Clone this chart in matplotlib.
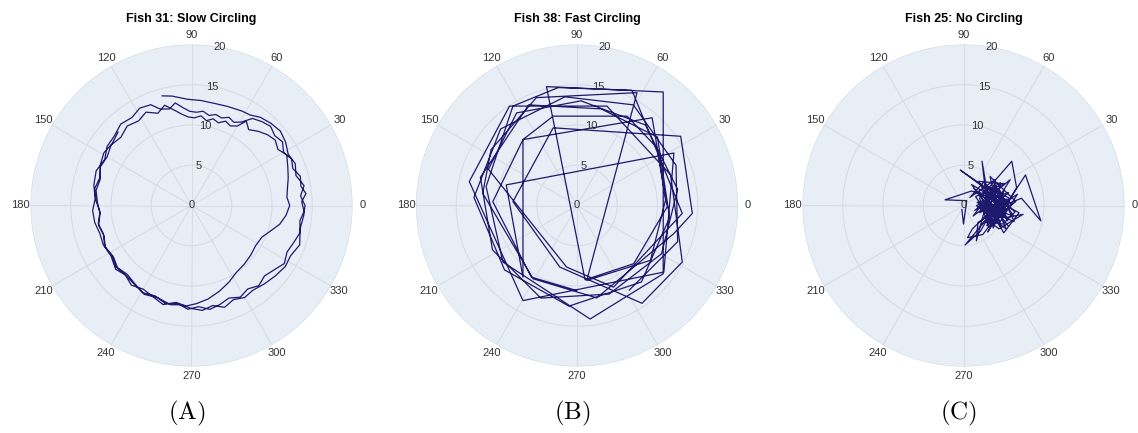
import numpy as np
import matplotlib.pyplot as plt

plt.rcParams['font.family'] = ['Liberation Sans', 'DejaVu Sans']
plt.rcParams['mathtext.fontset'] = 'cm'

# Fish 31: slow circling, three laps (angle in degrees, distance from centre)
theta_31 = [
    105, 100, 92, 85, 78, 70, 62, 57, 52, 46, 40, 34, 28, 22, 16, 10, 5, 0, -5, -12,
    -20, -27, -33, -40, -47, -54, -60, -66, -72, -78, -84, -90, -96, -102, -110, -118,
    -126, -133, -140, -148, -156, -163, -170, -177, 176, 168, 160, 152, 145, 138, 131,
    124, 118, 112,
    108, 103, 99, 95, 91, 87, 83, 79, 75, 71, 67, 63, 59, 55, 50, 45, 40, 35, 30, 25,
    20, 15, 10, 6, 2, -3, -8, -14, -20, -26, -32, -38, -44, -50, -56, -62, -68, -74,
    -80, -86, -92, -98, -105, -112, -119, -126, -133, -140, -147, -154, -161, -168,
    -175, 178, 171, 164, 157, 150, 143, 136, 129, 122, 116,
    110, 105, 100, 96, 92, 88, 84, 80, 76, 72, 68, 64, 60, 57, 53, 48, 43, 38, 33, 28,
    22, 16, 10, 5, 0, -6, -12, -18, -24, -32, -40, -48, -56, -64, -72, -80, -87, -93,
    -99, -106, -113, -120, -127, -134, -141, -148, -155, -162, -169, -176, 177, 170,
    163, 156, 149, 142, 135,
]
r_31 = [
    14.1, 13.8, 13.2, 13.1, 13.0, 13.1, 13.3, 13.4, 13.9, 14.2, 14.4, 14.1, 13.6, 13.9,
    13.5, 14.2, 13.6, 14.1, 14.0, 13.8, 14.3, 13.8, 13.9, 13.6, 13.3, 13.0, 13.2, 12.8,
    13.3, 12.7, 13.1, 12.8, 12.4, 12.6, 12.2, 12.5, 12.1, 11.9, 12.3, 11.8, 12.0, 11.9,
    12.2, 12.3, 12.0, 12.4, 12.6, 12.2, 12.8, 12.9, 13.4, 13.2, 13.7, 13.5,
    12.6, 12.3, 12.9, 12.2, 11.7, 11.6, 11.8, 11.4, 11.7, 11.5, 11.9, 11.6, 12.1, 13.2,
    13.6, 13.9, 13.5, 13.8, 13.2, 13.7, 13.4, 14.0, 13.8, 14.3, 13.7, 14.0, 13.6, 13.9,
    13.5, 13.2, 13.6, 13.0, 12.6, 13.0, 12.5, 12.9, 12.4, 12.8, 13.1, 12.6, 12.9, 12.3,
    12.6, 12.1, 12.4, 12.0, 11.7, 12.0, 11.6, 11.9, 11.5, 11.8, 11.4, 11.7, 12.0, 11.8,
    12.3, 12.1, 12.5, 12.2, 12.7, 12.4, 12.9,
    12.2, 12.9, 12.0, 11.4, 11.0, 10.9, 11.2, 10.7, 11.1, 10.8, 11.3, 11.0, 11.4, 12.5,
    11.8, 12.4, 12.9, 13.2, 12.8, 13.4, 12.9, 12.5, 12.1, 11.9, 12.2, 11.8, 11.2, 10.3,
    9.6, 9.4, 9.6, 9.8, 10.0, 10.6, 11.2, 11.8, 12.2, 12.5, 12.2, 12.8, 12.3, 12.0, 12.4,
    11.9, 12.1, 11.7, 11.9, 11.5, 11.8, 11.4, 11.9, 12.2, 11.9, 12.4, 12.7, 12.5, 12.9,
]

# Fish 38: fast circling, sparse samples (x, y positions)
x_38 = [-0.04, -5.67, -10.46, -6.71, -2.96, 6.21, 9.96, 11.0, 9.13, 1.21, 7.46, -5.04,
        -10.67, -11.71, -5.46, 2.46, 12.04, 14.33, 12.88, -2.96, -7.96, -2.13, 8.08,
        13.08, 11.63, 3.71, -8.38, -13.38, -6.71, 10.79, 12.04, -8.79, -6.71, -6.71,
        9.33, 11.21, 7.04, 1.0, -3.79, 10.71, 10.71, 1.63, -9.21, -11.29, -7.96, -2.33,
        6.83, 13.08, 4.54, -1.29,
        -11.0, -7.5, 0.5, 8.5, 12.5, 10.5, 4.0, -4.5, -10.5, -12.0, -6.0, 3.0, 10.0,
        11.5, 8.0, -1.0, -9.0, -12.8, -9.5, -1.5, 7.0, 12.3, 12.5, 6.5]
y_38 = [-10.56, -8.90, 0.48, 8.19, 11.10, 11.10, 7.15, 0.69, -6.81, -9.31, 14.02, 13.4,
        6.94, 1.52, -9.10, -11.48, -3.48, -0.98, 8.60, 9.65, 0.48, -7.65, -12.15,
        -7.02, 3.81, 12.35, 12.35, 2.98, -11.81, -8.27, 6.52, 2.56, -8.90, 8.19,
        10.9, -0.15, -7.23, -9.23, 14.77, 14.1, -8.48, -14.1, -7.02, 2.35, 12.35, 14.65,
        14.31, -0.98, -10.15, -7.65,
        4.5, 11.5, 13.0, 10.0, 2.0, -6.0, -11.0, -11.5, -5.5, 3.5, 12.5, 12.0, 8.5,
        -1.5, -9.5, -12.5, -8.0, 1.0, 9.5, 13.5, 12.5, 5.0, -4.5, -10.5]

# Fish 25: no circling, wandering near the centre (x, y positions)
x_25 = [-0.2, 0.0, 0.4, -2.3, 1.0, 2.8, 2.3, 3.2, 1.2, 4.0, 5.3, 3.1, 2.0, 6.0, 6.6,
        4.2, 1.0, 3.7, 5.6, 2.5, 7.2, 9.6, 7.7, 5.5, 3.2, 1.5, 4.6, 3.8, 2.1, 0.2, 2.6,
        4.9, 6.4, 3.4, -0.4, 2.6, 4.3, 6.9, 5.0, 3.6, 1.8, 1.6, 3.0, 5.8, 4.6, 2.2, 5.2,
        7.4, 4.4, 3.0, 4.8, 2.5, 0.8, 3.9, 4.1, 6.0, 3.5, 2.0, 5.6, 3.3, 1.4, 4.5, 6.3,
        2.8, 3.9, 5.1, 1.9, 4.2, 3.0, 5.4, 2.3, 4.7, 3.6, 6.1, 2.9, 4.0,
        3.2, 4.9, 2.4, 5.9, 3.8, 2.7, 4.5, 6.7, 3.1, 1.7, 4.3, 5.5, 2.6, 3.7, 5.0, 2.0,
        4.1, 6.2, 3.4, 1.3, 4.8, 3.0, 5.7, 2.2, 4.4, 3.6, 5.3, 2.9, 1.1, 0.5, 2.4, 4.0,
        6.5, 3.3, 4.6, 2.7, 5.0, 3.8, 1.6, 4.2]
y_25 = [-0.5, -2.3, 0.6, 0.7, 1.8, 1.2, 5.5, 0.2, -1.3, 2.4, -0.6, -2.7, 0.9, 5.5, 2.2,
        -1.8, 2.6, 1.0, 1.6, -1.0, 0.9, -1.9, 3.8, 0.4, -1.4, 1.1, 2.8, -0.2, -3.2, -4.9,
        -2.0, -2.3, -0.8, 1.8, 4.4, 2.2, 0.5, -0.9, -3.4, -1.0, -2.1, -4.4, 0.9, 3.2,
        1.3, -0.3, -1.5, -1.1, -2.9, -1.8, 0.0, 2.9, 1.0, 3.2, -0.8, 1.0, -2.2, 1.7, -2.6,
        0.4, -0.6, 1.9, -2.0, -0.5, 2.2, 2.7, 3.0, -1.4, -3.3, 0.8, 0.3, -0.5, 1.4, 0.2,
        -2.5, 0.3,
        1.6, -1.2, -1.6, -0.3, 2.6, 0.6, -2.1, 1.4, -0.9, 0.4, 1.1, -1.9, 1.9, -2.8, 0.6,
        -0.9, 2.0, -1.3, -0.4, 2.1, -0.9, 2.4, 0.9, -2.4, 0.1, 0.9, -2.9, -1.2, -2.9,
        -4.0, -3.6, -1.5, 0.5, 3.6, -2.6, -0.2, 1.8, -1.9, 0.0, 0.7]

titles = ["Fish 31: Slow Circling", "Fish 38: Fast Circling", "Fish 25: No Circling"]
tags = ["(A)", "(B)", "(C)"]
angle_ticks = list(range(0, 360, 30))
r_ticks = [0, 5, 10, 15, 20]

BG = '#e8eef5'
GRID = '#d7dde7'
LINE = '#1d1a6d'
TXT = '#333333'

W, H = 1138, 433
fig = plt.figure(figsize=(W / 100, H / 100), dpi=100)

centers = [191.5, 577, 963.5]
rad = 161
cy = 205.5


def polar_panel(cx, theta, r, title, tag):
    ax = fig.add_axes([(cx - rad) / W, (H - cy - rad) / H, 2 * rad / W, 2 * rad / H],
                      projection='polar')
    ax.set_facecolor(BG)
    ax.plot(theta, r, color=LINE, lw=0.9)
    ax.set_ylim(0, 20)
    ax.set_yticks(r_ticks)
    ax.set_yticklabels([])
    # radial labels drawn along the 80 degree spoke
    for t in r_ticks:
        ax.text(np.deg2rad(80), t, str(t), fontsize=8, color=TXT,
                ha='center', va='center')
    ax.set_thetagrids(angle_ticks, [str(a) for a in angle_ticks])
    ax.grid(color=GRID, lw=0.8)
    ax.spines['polar'].set_visible(False)
    ax.tick_params(axis='x', pad=0, labelsize=8, labelcolor=TXT, length=0)
    ax.tick_params(axis='y', length=0)
    fig.text(cx / W, 1 - 19 / H, title, fontsize=9, fontweight='bold',
             ha='center', va='center')
    fig.text((cx - 5) / W, 1 - 413 / H, r'$\mathrm{' + tag + '}$', fontsize=18,
             ha='center', va='center')
    return ax


polar_panel(centers[0], np.deg2rad(theta_31), r_31, titles[0], tags[0])

x, y = np.array(x_38), np.array(y_38)
polar_panel(centers[1], np.arctan2(y, x), np.hypot(x, y), titles[1], tags[1])

x, y = np.array(x_25), np.array(y_25)
polar_panel(centers[2], np.arctan2(y, x), np.hypot(x, y), titles[2], tags[2])

fig.savefig('out.png', dpi=100, facecolor='white')
